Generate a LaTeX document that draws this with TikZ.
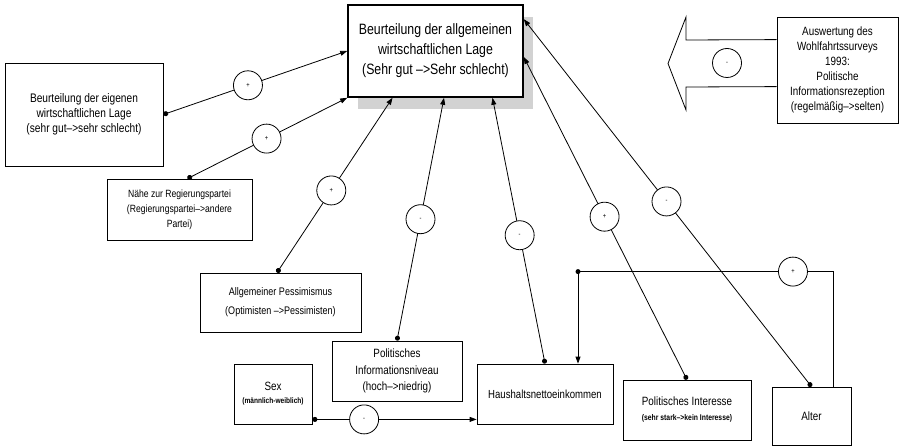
\documentclass[tikz,border=0pt]{standalone}
\usepackage{fontspec}
\setmainfont{Liberation Sans}[FakeStretch=0.82]
\usetikzlibrary{arrows.meta,calc}
\begin{document}
\begin{tikzpicture}[x=1pt,y=-1pt,
  box/.style={draw, line width=0.8pt, align=center, inner sep=2pt, fill=white},
  sgn/.style={circle, draw, fill=white, line width=0.8pt, minimum size=29pt, inner sep=0pt, font=\fontsize{7}{7}\selectfont},
  conn/.style={line width=0.8pt, {Circle[length=5pt]}-{Triangle[length=7pt,width=5pt]}},
  plainarr/.style={line width=0.8pt, -{Triangle[length=7pt,width=5pt]}},
  dot/.style={circle, fill, inner sep=0pt, minimum size=5pt}]
\useasboundingbox (0,0) rectangle (901,446);
% shadow of main box
\fill[gray!35] (358,17) rectangle (533,109);
\node[box, line width=1.6pt, minimum width=175pt, minimum height=92pt, font=\fontsize{15}{20}\selectfont] (main) at (435.5,51)
  {Beurteilung der allgemeinen\\wirtschaftlichen Lage\\(Sehr gut -->Sehr schlecht)};
\node[box, minimum width=158pt, minimum height=103pt, font=\fontsize{12.4}{15}\selectfont] (eigen) at (84,114.5)
  {Beurteilung der eigenen\\wirtschaftlichen Lage\\(sehr gut-->sehr schlecht)};
\node[box, minimum width=145pt, minimum height=61pt, font=\fontsize{10.5}{15}\selectfont] (naehe) at (179.5,209.5)
  {Nähe zur Regierungspartei\\(Regierungspartei-->andere\\Partei)};
\node[box, minimum width=161pt, minimum height=59pt, font=\fontsize{11}{19}\selectfont] (pess) at (280.5,302.5)
  {Allgemeiner Pessimismus\\(Optimisten -->Pessimisten)};
\node[box, minimum width=130pt, minimum height=60pt, font=\fontsize{12}{16.5}\selectfont] (info) at (397,371)
  {Politisches\\Informationsniveau\\(hoch-->niedrig)};
\node[box, minimum width=78pt, minimum height=60pt, font=\fontsize{12}{13}\selectfont] (sex) at (273,394)
  {Sex\\\fontsize{8}{10}\selectfont\bfseries (männlich-weiblich)};
\node[box, minimum width=136pt, minimum height=60pt, font=\fontsize{11.7}{14}\selectfont] (haus) at (545,394)
  {Haushaltsnettoeinkommen};
\node[box, minimum width=128pt, minimum height=60pt, font=\fontsize{12}{15}\selectfont] (inter) at (687,410)
  {Politisches Interesse\\\fontsize{8.3}{10}\selectfont\bfseries (sehr stark-->kein Interesse)};
\node[box, minimum width=79pt, minimum height=58pt, font=\fontsize{12}{14}\selectfont] (alter) at (811.5,416)
  {Alter};
\node[box, minimum width=121pt, minimum height=106pt, font=\fontsize{12}{15}\selectfont] (ausw) at (837.5,70)
  {Auswertung des\\Wohlfahrtssurveys\\1993:\\Politische\\Informationsrezeption\\(regelmäßig-->selten)};
% big arrow
\draw[line width=0.8pt] ($(ausw.north west)+(0,23)$) -- (686,40) -- (686,17) -- (668,63.5) -- (686,110) -- (686,87) -- ($(ausw.north west)+(0,70)$);
\node[sgn] (asgn) at (727,63) {-};
% connectors
\draw[conn] (eigen.east) -- node[sgn,pos=0.46] (s1) {+} (main.west);
\draw[conn] ($(naehe.north)+(8,0)$) -- node[sgn,pos=0.495] (s2) {+} (main.south west);
\draw[conn] ($(pess.north)+(-3.5,0)$) -- node[sgn,pos=0.47] (s3) {+} ($(main.south)+(-43,0)$);
\draw[conn] (info.north) -- node[sgn,pos=0.5] (s4) {-} ($(main.south)+(8.5,0)$);
\draw[conn] (haus.north) -- node[sgn,pos=0.483] (s5) {-} ($(main.south)+(57,0)$);
\draw[conn] (inter.north) -- node[sgn,pos=0.505] (s6) {+} ($(main.east)+(0,6)$);
\draw[conn] (alter.north) -- node[sgn,pos=0.504] (s7) {-} ($(main.north east)+(0,15)$);
\coordinate (c1) at ($(alter.north)+(21.5,-115)$);
\coordinate (c2) at ($(haus.north)+(33,-92)$);
\draw[plainarr] ($(alter.north)+(21.5,0)$) -- (c1) -- node[sgn,pos=0.157] (s8) {+} (c2) -- ($(haus.north)+(33,0)$);
\node[dot] (d8) at (c2) {};
\draw[conn] ($(sex.south east)+(0,-5)$) -- node[sgn,pos=0.315] (s9) {-} ($(haus.south west)+(0,-5)$);
\end{tikzpicture}
\end{document}
